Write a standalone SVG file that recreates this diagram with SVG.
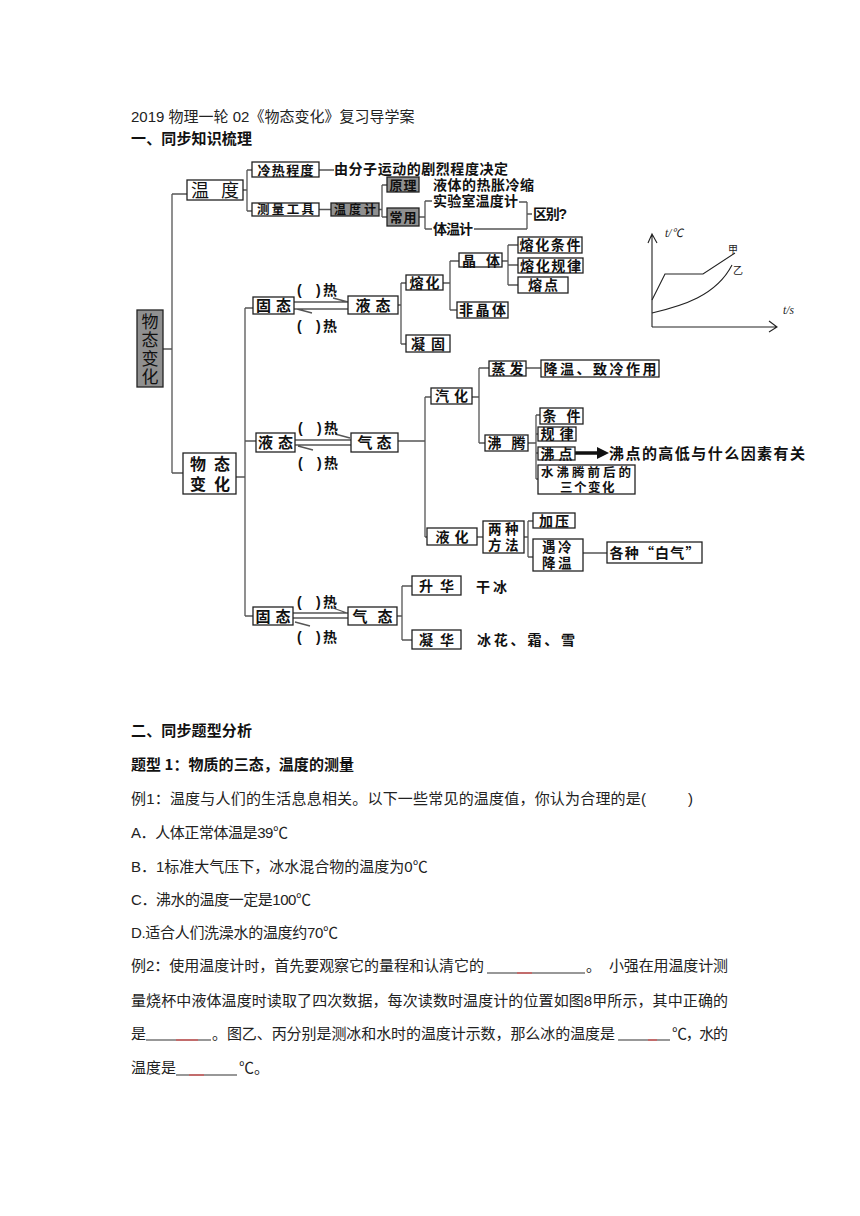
<svg xmlns="http://www.w3.org/2000/svg" width="860" height="1216" viewBox="0 0 860 1216">
<style>
.b{fill:#fff;stroke:#222;stroke-width:1.3}
.g{fill:#909090;stroke:#222;stroke-width:1.3}
.c{stroke:#555;stroke-width:1.3;fill:none}
.t{font-family:"Liberation Sans","Noto Sans CJK SC",sans-serif;font-weight:bold;font-size:14px;fill:#111;text-anchor:middle}
.tl{font-family:"Liberation Sans","Noto Sans CJK SC",sans-serif;font-weight:bold;font-size:14px;fill:#111}
.h{font-family:"Noto Sans CJK SC","Noto Sans",sans-serif;font-weight:bold;font-size:15px;fill:#111}
.p{font-family:"Liberation Sans","Noto Sans CJK SC",sans-serif;font-size:15px;fill:#222}
.ax{font-family:"Liberation Serif","Noto Sans CJK SC",serif;font-style:italic;font-size:11.5px;fill:#222}
.ul{stroke:#333;stroke-width:1.2}
.ur{stroke:#e05050;stroke-width:1.2}
</style>
<rect width="860" height="1216" fill="#fff"/>

<text class="p" x="131" y="121.5">2019 物理一轮 02《物态变化》复习导学案</text>
<text class="h" x="131" y="143.5" textLength="121">一、同步知识梳理</text>

<g id="connectors">
<path class="c" d="M172,194 V473 M172,194 H187 M172,473 H183 M163,349 H172"/>
<path class="c" d="M243,190 H247 M247,170 V211 M247,170 H252 M247,211 H252"/>
<path class="c" d="M319,170 H334 M319,209.5 H331 M379,209.5 H382 M382,185 V217 M382,185 H387 M382,217 H387"/>
<path class="c" d="M419,217 H425 M425,201 V229 M425,201 H432 M425,229 H432 M519,202 H527 M474,229 H527 M527,202 V229 M527,214 H532"/>
<path class="c" d="M236,477 H245 M245,308 V616 M245,308 H253 M245,441 H256 M245,616 H253"/>
<path class="c" d="M294,302 H348 M294,309 H348 M333,298 L348,302 M297,309 L312,313"/>
<path class="c" d="M398,305 H401 M401,283 V344 M401,283 H406 M401,344 H406"/>
<path class="c" d="M443,283 H450 M450,261 V310 M450,261 H459 M450,310 H457"/>
<path class="c" d="M502,261 H508 M508,245 V285 M508,245 H518 M508,265 H518 M508,285 H518"/>
<path class="c" d="M295,440 H351 M295,445 H351 M335,434 L350,438 M298,446 L313,450"/>
<path class="c" d="M398,441 H425 M425,397 V537 M425,397 H431 M425,537 H427"/>
<path class="c" d="M472,397 H479 M479,368 V443 M479,368 H489 M479,443 H485 M526,368 H541"/>
<path class="c" d="M528,443 H536 M536,415 V479 M536,415 H540 M536,434 H538 M536,453 H538 M536,479 H538"/>
<path d="M575,453 H599" stroke="#111" stroke-width="3.5"/>
<polygon points="597,447 609,453 597,459" fill="#111"/>
<path class="c" d="M477,537 H483 M524,537 H528 M528,521 V557 M528,521 H533 M528,557 H533 M583,553 H607"/>
<path class="c" d="M293,613 H348 M293,618 H348 M333,608 L347,613 M295,622 L310,626"/>
<path class="c" d="M397,616 H402 M402,586 V640 M402,586 H412 M402,640 H412"/>
</g>

<g id="n-wendu"><rect class="b" x="187" y="180" width="56" height="20"/><text class="t" x="215" y="196.5" style="font-weight:normal;font-size:18px" textLength="48">温 度</text></g>
<g id="n-lengre"><rect class="b" x="252" y="162" width="67" height="15"/><text class="t" x="285.5" y="174.5" style="font-size:13px" textLength="56">冷热程度</text></g>
<g id="n-fenzi"><text class="tl" x="334" y="174" textLength="174">由分子运动的剧烈程度决定</text></g>
<g id="n-celiang"><rect class="b" x="252" y="203" width="67" height="13"/><text class="t" x="285.5" y="214" style="font-size:12.5px" textLength="57">测量工具</text></g>
<g id="n-wdj"><rect class="g" x="331" y="203" width="48" height="13"/><text class="t" x="355" y="214" style="font-size:12px" textLength="42">温度计</text></g>
<g id="n-yuanli"><rect class="g" x="387" y="177" width="32" height="15"/><text class="t" x="403" y="189.5" style="font-size:13px" textLength="27">原理</text></g>
<g id="n-rezhang"><text class="tl" x="433" y="190" textLength="101">液体的热胀冷缩</text></g>
<g id="n-changyong"><rect class="g" x="387" y="208" width="32" height="18"/><text class="t" x="403" y="222" style="font-size:13px" textLength="27">常用</text></g>
<g id="n-shiyan"><text class="tl" x="433" y="206" textLength="85">实验室温度计</text></g>
<g id="n-tiwen"><text class="tl" x="433" y="234" textLength="40">体温计</text></g>
<g id="n-qubie"><text class="tl" x="533" y="219" textLength="34">区别?</text></g>

<g id="n-wtbh-gray"><rect class="g" x="137" y="310" width="26" height="77"/>
<text x="150" y="313" style="writing-mode:vertical-rl;letter-spacing:1.5px;font-family:'Noto Sans CJK SC',sans-serif;font-size:17px;fill:#111">物态变化</text></g>
<g id="n-wtbh"><rect class="b" x="183" y="453" width="53" height="41"/><text class="tl" style="font-size:16px"><tspan x="190 214" y="470">物态</tspan><tspan x="190 214" y="489.5">变化</tspan></text></g>

<g id="n-gutai1"><rect class="b" x="253" y="297" width="41" height="17"/><text class="t" x="273.5" y="311" style="font-size:15px" textLength="35">固态</text></g>
<g id="n-yetai1"><rect class="b" x="348" y="296" width="50" height="18"/><text class="t" x="373" y="310.5" style="font-size:15px" textLength="35">液态</text></g>
<g id="heat1"><text class="tl"><tspan x="297" y="295">(</tspan><tspan x="316" y="295">)</tspan><tspan x="323" y="295">热</tspan></text>
<text class="tl"><tspan x="297" y="331">(</tspan><tspan x="316" y="331">)</tspan><tspan x="323" y="331">热</tspan></text></g>
<g id="n-ronghua"><rect class="b" x="406" y="275" width="37" height="15"/><text class="t" x="424.5" y="287.5" textLength="30">熔化</text></g>
<g id="n-jingti"><rect class="b" x="459" y="253" width="43" height="14"/><text class="tl" y="265.5"><tspan x="462">晶</tspan><tspan x="486">体</tspan></text></g>
<g id="n-feijingti"><rect class="b" x="457" y="302" width="51" height="16"/><text class="t" x="482.5" y="315" textLength="47">非晶体</text></g>
<g id="n-rhtj"><rect class="b" x="518" y="237" width="64" height="16"/><text class="t" x="550" y="250" textLength="61">熔化条件</text></g>
<g id="n-rhgl"><rect class="b" x="518" y="258" width="65" height="15"/><text class="t" x="550.5" y="270.5" textLength="61">熔化规律</text></g>
<g id="n-rd"><rect class="b" x="518" y="277" width="50" height="16"/><text class="t" x="543" y="290" textLength="30">熔点</text></g>
<g id="n-ninggu"><rect class="b" x="406" y="335" width="44" height="17"/><text class="t" x="428" y="348.5" textLength="34">凝固</text></g>

<g id="n-yetai2"><rect class="b" x="256" y="433" width="39" height="19"/><text class="t" x="275.5" y="448" style="font-size:15px" textLength="35">液态</text></g>
<g id="n-qitai2"><rect class="b" x="351" y="433" width="47" height="19"/><text class="t" x="374.5" y="448" style="font-size:15px" textLength="34">气态</text></g>
<g id="heat2"><text class="tl"><tspan x="298" y="433">(</tspan><tspan x="317" y="433">)</tspan><tspan x="324" y="433">热</tspan></text>
<text class="tl"><tspan x="298" y="468">(</tspan><tspan x="317" y="468">)</tspan><tspan x="324" y="468">热</tspan></text></g>
<g id="n-qihua"><rect class="b" x="431" y="388" width="41" height="16"/><text class="t" x="451.5" y="401" textLength="33">汽化</text></g>
<g id="n-zhengfa"><rect class="b" x="489" y="361" width="37" height="15"/><text class="t" x="507.5" y="373.5" textLength="32">蒸发</text></g>
<g id="n-jiangwen"><rect class="b" x="541" y="360" width="118" height="17"/><text class="t" x="600" y="373.5" textLength="113">降温、致冷作用</text></g>
<g id="n-feiteng"><rect class="b" x="485" y="435" width="43" height="16"/><text class="t" x="506.5" y="448" textLength="38">沸腾</text></g>
<g id="n-tiaojian"><rect class="b" x="540" y="408" width="43" height="16"/><text class="t" x="561.5" y="421" textLength="38">条件</text></g>
<g id="n-guilv"><rect class="b" x="538" y="427" width="38" height="14"/><text class="t" x="557" y="439" textLength="33">规律</text></g>
<g id="n-feidian"><rect class="b" x="538" y="447" width="37" height="13"/><text class="t" x="556.5" y="458.5" textLength="32">沸点</text></g>
<g id="n-yinsu"><text class="tl" x="609" y="458.5" style="font-size:15px" textLength="196">沸点的高低与什么因素有关</text></g>
<g id="n-sanbian"><rect class="b" x="538" y="465" width="97" height="29"/><text class="tl" style="font-size:12.5px"><tspan x="541 556.5 572 587.5 603 618.5" y="477">水沸腾前后的</tspan><tspan x="560 574 588 602" y="492">三个变化</tspan></text></g>
<g id="n-yehua"><rect class="b" x="427" y="528" width="50" height="17"/><text class="t" x="452" y="541.5" textLength="33">液化</text></g>
<g id="n-liangzhong"><rect class="b" x="483" y="521" width="41" height="32"/><text class="tl" style="font-size:13.5px"><tspan x="488 505" y="533.5">两种</tspan><tspan x="488 505" y="550">方法</tspan></text></g>
<g id="n-jiaya"><rect class="b" x="533" y="513" width="42" height="15"/><text class="t" x="554" y="525.5" textLength="30">加压</text></g>
<g id="n-yuleng"><rect class="b" x="533" y="539" width="50" height="32"/><text class="tl" style="font-size:13.5px"><tspan x="542 558" y="551.5">遇冷</tspan><tspan x="542 558" y="568">降温</tspan></text></g>
<g id="n-baiqi"><rect class="b" x="607" y="542" width="95" height="21"/><text class="t" x="654.5" y="557.5" style="font-family:'Noto Sans CJK SC',sans-serif" textLength="90">各种“白气”</text></g>

<g id="n-gutai3"><rect class="b" x="253" y="607" width="40" height="18"/><text class="t" x="273" y="621.5" style="font-size:15px" textLength="35">固态</text></g>
<g id="n-qitai3"><rect class="b" x="348" y="607" width="49" height="18"/><text class="t" x="372.5" y="621.5" style="font-size:15px" textLength="40">气态</text></g>
<g id="heat3"><text class="tl"><tspan x="297" y="607">(</tspan><tspan x="316" y="607">)</tspan><tspan x="323" y="607">热</tspan></text>
<text class="tl"><tspan x="297" y="642">(</tspan><tspan x="316" y="642">)</tspan><tspan x="323" y="642">热</tspan></text></g>
<g id="n-shenghua"><rect class="b" x="412" y="576" width="49" height="19"/><text class="t" x="436.5" y="590.5" textLength="35">升华</text></g>
<g id="n-ganbing"><text class="tl" x="476" y="592" textLength="31">干冰</text></g>
<g id="n-ninghua"><rect class="b" x="412" y="630" width="49" height="19"/><text class="t" x="436.5" y="644.5" textLength="35">凝华</text></g>
<g id="n-binghua"><text class="tl" x="477" y="645" textLength="98">冰花、霜、雪</text></g>

<g id="chart">
<path d="M652,327 V235 M648,243 L652,234 L657,243 M652,327 H776 M769,321 L777,327 L769,332" stroke="#222" stroke-width="1.1" fill="none"/>
<polyline points="652,300 665,274 703,274 735,253" stroke="#222" stroke-width="1.1" fill="none"/>
<path d="M652,313 C682,306 716,296 732,265" stroke="#222" stroke-width="1.1" fill="none"/>
<text class="ax" x="665" y="237">t/℃</text>
<text class="ax" x="783" y="314">t/s</text>
<text class="ax" x="728" y="253" style="font-style:normal;font-size:10px">甲</text>
<text class="ax" x="733" y="274" style="font-style:normal;font-size:10px">乙</text>
</g>

<text class="h" x="131" y="735.5" textLength="121">二、同步题型分析</text>
<text class="h" x="131" y="769.5" textLength="223">题型 1：物质的三态，温度的测量</text>
<text class="p" x="131" y="803.5" textLength="515">例1：温度与人们的生活息息相关。以下一些常见的温度值，你认为合理的是(</text>
<text class="p" x="688" y="803.5">)</text>
<text class="p" x="131" y="837.5" textLength="157">A．人体正常体温是39℃</text>
<text class="p" x="131" y="871.5">B．1标准大气压下，冰水混合物的温度为0℃</text>
<text class="p" x="131" y="904.5" textLength="180">C．沸水的温度一定是100℃</text>
<text class="p" x="131" y="937.5" textLength="207">D.适合人们洗澡水的温度约70℃</text>
<text class="p" x="131" y="970.5" textLength="353">例2：使用温度计时，首先要观察它的量程和认清它的</text>
<line class="ul" x1="487" y1="973" x2="585" y2="973"/><line class="ur" x1="517" y1="973" x2="532" y2="973"/>
<text class="p" x="586" y="970.5">。</text>
<text class="p" x="609" y="970.5" textLength="119">小强在用温度计测</text>
<text class="p" x="131" y="1005.5" textLength="597">量烧杯中液体温度时读取了四次数据，每次读数时温度计的位置如图8甲所示，其中正确的</text>
<text class="p" x="131" y="1038.5">是</text>
<line class="ul" x1="146" y1="1040" x2="211" y2="1040"/><line class="ur" x1="176" y1="1040" x2="198" y2="1040"/>
<text class="p" x="212" y="1038.5" textLength="403">。图乙、丙分别是测冰和水时的温度计示数，那么冰的温度是</text>
<line class="ul" x1="618" y1="1040" x2="670" y2="1040"/><line class="ur" x1="648" y1="1040" x2="657" y2="1040"/>
<text class="p" x="672" y="1038.5" textLength="56">℃，水的</text>
<text class="p" x="131" y="1072.5" textLength="45">温度是</text>
<line class="ul" x1="176" y1="1075" x2="237" y2="1075"/><line class="ur" x1="189" y1="1075" x2="204" y2="1075"/>
<text class="p" x="239" y="1072.5">℃。</text>
</svg>
